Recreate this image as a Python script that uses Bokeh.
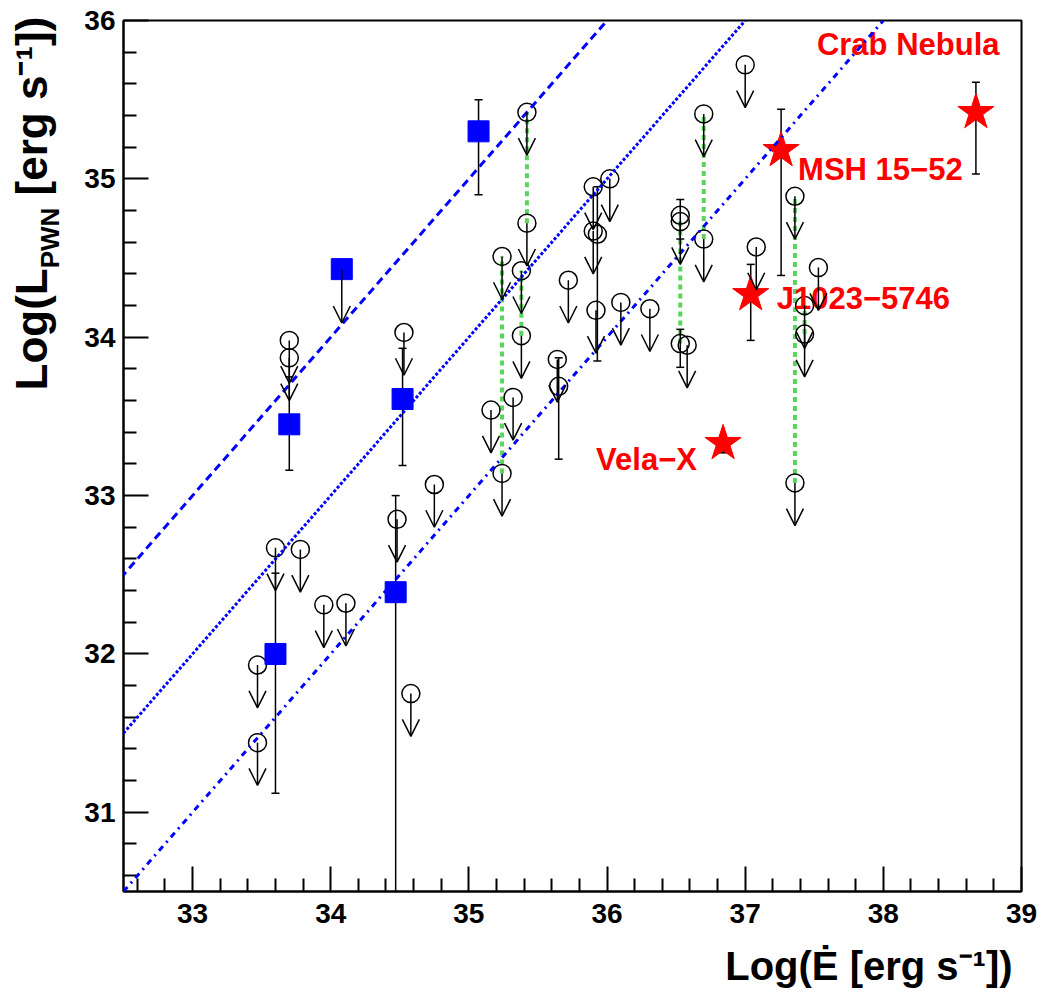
import numpy as np
from bokeh.plotting import figure
from bokeh.layouts import row, column
from bokeh.models import (ColumnDataSource, Range1d, FixedTicker, Arrow, OpenHead,
                          Slope)
from bokeh.core.properties import value
from bokeh.embed import file_html
from bokeh.resources import INLINE

# ---------------- data ----------------
# Upper limits (open circles with downward arrows): log Edot, log L_PWN
ul_x = [35.42, 35.42, 36.70, 36.70, 37.00, 35.90, 36.02, 35.90, 35.24, 35.38,
        35.72, 36.53, 37.08, 37.36, 37.53, 37.43, 37.43, 37.36, 35.92, 36.10,
        36.31, 36.58, 35.64, 35.16, 35.32, 35.24, 35.38, 34.75, 33.70, 33.70,
        34.53, 34.48, 33.60, 33.78, 33.95, 34.11, 33.47, 33.47, 34.58]
ul_y = [35.42, 34.72, 35.41, 34.62, 35.72, 34.95, 35.00, 34.67, 34.51, 34.42,
        34.36, 34.73, 34.57, 34.89, 34.44, 34.20, 34.02, 33.08, 34.17, 34.22,
        34.18, 33.95, 33.86, 33.54, 33.62, 33.14, 34.01, 33.07, 33.98, 33.87,
        34.03, 32.85, 32.67, 32.66, 32.31, 32.32, 31.93, 31.44, 31.75]

# Open circles with error bars
det_x = [35.93, 36.53, 36.53, 35.65]
det_y = [34.65, 34.77, 33.96, 33.69]
det_lo = [33.85, 34.62, 33.81, 33.23]
det_hi = [34.95, 34.87, 34.05, 33.87]

# Blue squares with error bars
sq_x = [35.07, 33.70, 34.52, 33.60, 34.47]
sq_y = [35.30, 33.45, 33.61, 32.00, 32.39]
sq_lo = [34.90, 33.16, 33.19, 31.12, 30.00]
sq_hi = [35.50, 33.75, 33.93, 32.51, 33.00]
# Blue square upper limit
squl_x = [34.08]
squl_y = [34.43]

# Red stars (named PWNe)
star_name = ["Crab Nebula", "MSH 15\u221252", "J1023\u22125746", "Vela\u2212X"]
star_x = [38.67, 37.26, 37.04, 36.84]
star_y = [35.42, 35.18, 34.27, 33.33]
star_lo = [35.03, 34.39, 33.98, 33.27]
star_hi = [35.61, 35.44, 34.46, 33.38]

# Pairs of limits joined by green dashed lines
pair_x = [35.24, 35.42, 35.38, 36.53, 36.70, 37.36, 37.43]
pair_hi = [34.51, 35.42, 34.42, 34.73, 35.41, 34.89, 34.20]
pair_lo = [33.14, 34.72, 34.01, 33.96, 34.62, 33.08, 34.02]

# Efficiency lines: log L = log Edot + log(eta)
eff_log = [0, -1, -2]
eff_dash = ["8 5", "3 2", "6 5 2 5"]

x_major = [33, 34, 35, 36, 37, 38, 39]
y_major = [31, 32, 33, 34, 35, 36]

x_title = "Log(\u0116 [erg s\u207b\u00b9])"
y_title_main = "Log(L"
y_title_sub = "PWN"
y_title_rest = "[erg s\u207b\u00b9])"

# ---------------- style ----------------
FONT = "Liberation Sans"
BLUE = "#0000ff"
GREEN = "#5ad45a"
RED = "#ff0000"
ARROW_LEN = 0.27
SQ_ARROW_LEN = 0.34
BASE_FIX = 0.36    # empirical shift of the alphabetic baseline, in em

TOTAL_W, TOTAL_H = 1040, 990
YT_W = 70          # width of the y-title strip
XT_H = 50          # height of the x-title strip
MAIN_W = TOTAL_W - YT_W
MAIN_H = TOTAL_H - XT_H

p = figure(width=MAIN_W, height=MAIN_H, output_backend="svg", toolbar_location=None,
           x_range=Range1d(32.5, 39), y_range=Range1d(30.5, 36),
           min_border_left=123 - YT_W, min_border_right=19, min_border_top=20,
           min_border_bottom=MAIN_H - 20 - 871)
p.grid.visible = False
p.outline_line_color = "black"
p.outline_line_width = 2
p.background_fill_color = "white"
p.border_fill_color = "white"

x_minor = [round(v, 1) for v in np.arange(32.6, 39.0, 0.2) if abs(v - round(v)) > 1e-6]
y_minor = [round(v, 1) for v in np.arange(30.6, 36.0, 0.2) if abs(v - round(v)) > 1e-6]
p.xaxis.ticker = FixedTicker(ticks=x_major, minor_ticks=x_minor)
p.yaxis.ticker = FixedTicker(ticks=y_major, minor_ticks=y_minor)
for ax in (p.xaxis[0], p.yaxis[0]):
    ax.major_tick_in = 25
    ax.major_tick_out = 0
    ax.minor_tick_in = 13
    ax.minor_tick_out = 0
    ax.major_tick_line_width = 2
    ax.minor_tick_line_width = 2
    ax.major_tick_line_color = "black"
    ax.minor_tick_line_color = "black"
    ax.axis_line_width = 2
    ax.axis_line_color = "black"
    ax.major_label_text_font = FONT
    ax.major_label_text_font_style = "bold"
    ax.major_label_text_font_size = "28px"
    ax.major_label_text_color = "black"
    ax.axis_label = None
p.xaxis.major_label_standoff = 12
p.yaxis.major_label_standoff = 8

# efficiency lines
for e, d in zip(eff_log, eff_dash):
    p.add_layout(Slope(gradient=1, y_intercept=e, line_color=BLUE, line_width=3,
                       line_dash=d))

# green dashed connectors
p.segment(x0=pair_x, y0=pair_lo, x1=pair_x, y1=pair_hi, line_color=GREEN,
          line_width=4, line_dash="5 4")

# error bars
def errbars(xs, lo, hi):
    p.segment(x0=xs, y0=lo, x1=xs, y1=hi, line_color="black", line_width=1.5)
    p.scatter(x=list(xs) + list(xs), y=list(lo) + list(hi), marker="dash",
              size=8, line_color="black", line_width=1.5)

errbars(det_x, det_lo, det_hi)
errbars(sq_x, sq_lo, sq_hi)
errbars(star_x, star_lo, star_hi)

# markers
p.scatter(x=ul_x, y=ul_y, marker="circle", size=18, fill_color=None,
          line_color="black", line_width=1.5)
p.scatter(x=det_x, y=det_y, marker="circle", size=18, fill_color=None,
          line_color="black", line_width=1.5)
p.scatter(x=sq_x + squl_x, y=sq_y + squl_y, marker="square", size=21,
          fill_color=BLUE, line_color=BLUE)
p.scatter(x=star_x, y=star_y, marker="star", size=38, fill_color=RED,
          line_color=RED)

# arrows for upper limits
ul_src = ColumnDataSource(dict(x=ul_x, y=ul_y, ye=[v - ARROW_LEN for v in ul_y]))
p.add_layout(Arrow(end=OpenHead(size=17, line_width=1.5, line_color="black"),
                   source=ul_src, x_start="x", y_start="y", x_end="x", y_end="ye",
                   line_color="black", line_width=1.5))
sq_src = ColumnDataSource(dict(x=squl_x, y=squl_y,
                               ye=[v - SQ_ARROW_LEN for v in squl_y]))
p.add_layout(Arrow(end=OpenHead(size=17, line_width=1.5, line_color="black"),
                   source=sq_src, x_start="x", y_start="y", x_end="x", y_end="ye",
                   line_color="black", line_width=1.5))

# star labels (pixel offsets from each star)
LAB_SIZE = 31
lab_dx = [-159, 17, 26, -127]
lab_dy = [d - BASE_FIX * LAB_SIZE for d in [-57, 30, 15, 27]]
lab_src = ColumnDataSource(dict(x=star_x, y=star_y, t=star_name, dx=lab_dx, dy=lab_dy))
p.text(x="x", y="y", text="t", x_offset="dx", y_offset="dy", source=lab_src,
       text_font=value(FONT), text_font_style="bold",
       text_font_size=f"{LAB_SIZE}px",
       text_color=RED, text_align="left", text_baseline="alphabetic")

# ---------------- axis titles ----------------
W = {'L': 611, 'o': 611, 'g': 611, '(': 333, ' ': 278, 'P': 667, 'W': 944,
     'N': 722}

def twidth(s, size):
    return sum(W.get(c, 600) for c in s) * size / 1000.0

def strip(w, h):
    f = figure(width=w, height=h, output_backend="svg", toolbar_location=None,
               x_range=Range1d(0, w), y_range=Range1d(0, h),
               x_axis_location=None, y_axis_location=None,
               min_border=0, min_border_left=0, min_border_right=0,
               min_border_top=0, min_border_bottom=0)
    f.grid.visible = False
    f.outline_line_color = None
    f.background_fill_color = "white"
    f.border_fill_color = "white"
    return f

def put(f, txt, x, y, size, angle, align="left"):
    f.text(x=[x], y=[y], text=[txt], angle=angle, text_font=value(FONT),
           text_font_style="bold", text_font_size=f"{size}px",
           text_color="black", text_align=align, text_baseline="alphabetic")

# y title (rotated): baseline at x = 47 in the strip, starting 390 px from the top
YS, YM, YB = 26, 44, 47
yt = strip(YT_W, TOTAL_H)
y0 = TOTAL_H - 390
put(yt, y_title_main, YB - BASE_FIX * YM, y0, YM, np.pi / 2)
y1 = y0 + twidth(y_title_main, YM)
put(yt, y_title_sub, YB + 12 - BASE_FIX * YS, y1, YS, np.pi / 2)
y2 = y1 + twidth(y_title_sub, YS) + twidth(" ", YM)
put(yt, y_title_rest, YB - BASE_FIX * YM, y2, YM, np.pi / 2)

# x title
XM = 40
xt = strip(MAIN_W, XT_H)
put(xt, x_title, 720 - YT_W, TOTAL_H - 980 + BASE_FIX * XM, XM, 0)

layout = row(yt, column(p, xt))
open("out.html", "w").write(file_html(layout, INLINE))
